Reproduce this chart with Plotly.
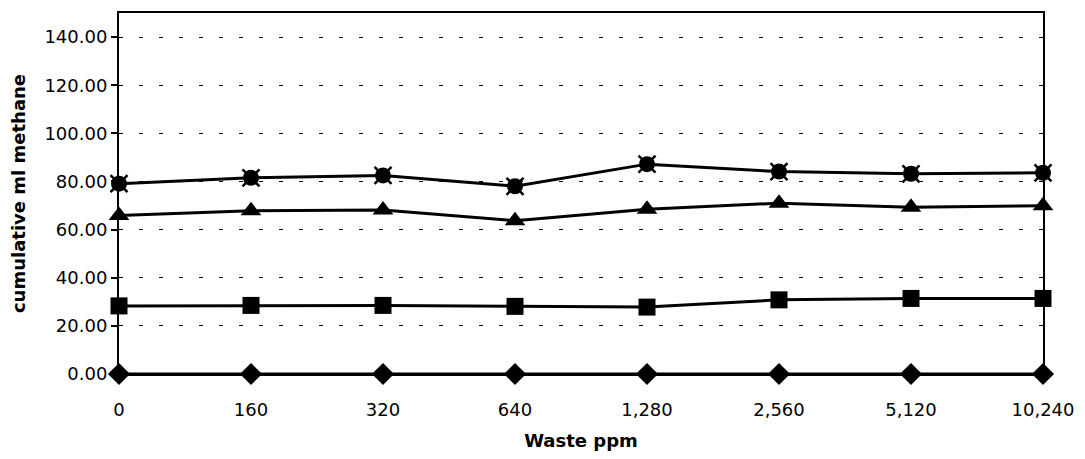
import plotly.graph_objects as go

# Waste concentrations (ppm) along the x axis
waste_ppm = ["0", "160", "320", "640", "1,280", "2,560", "5,120", "10,240"]

# Cumulative methane (ml) for each series
methane_top = [79.1, 81.5, 82.5, 78.0, 87.2, 84.1, 83.2, 83.6]
methane_triangle = [65.9, 67.8, 68.1, 63.7, 68.5, 71.0, 69.3, 69.9]
methane_square = [28.3, 28.5, 28.5, 28.1, 27.8, 30.8, 31.4, 31.4]
methane_diamond = [0, 0, 0, 0, 0, 0, 0, 0]

y_ticks = [0, 20, 40, 60, 80, 100, 120, 140]
y_tick_labels = [f"{v:.2f}" for v in y_ticks]

FONT = "DejaVu Sans"
line_style = dict(color="black", width=3)

fig = go.Figure()

fig.add_trace(go.Scatter(
    x=waste_ppm, y=methane_diamond, mode="lines+markers", name="Diamond",
    line=line_style, marker=dict(symbol="diamond", size=17, color="black"),
    cliponaxis=False,
))
fig.add_trace(go.Scatter(
    x=waste_ppm, y=methane_square, mode="lines+markers", name="Square",
    line=line_style, marker=dict(symbol="square", size=17, color="black"),
    cliponaxis=False,
))
fig.add_trace(go.Scatter(
    x=waste_ppm, y=methane_triangle, mode="lines+markers", name="Triangle",
    line=line_style, marker=dict(symbol="triangle-up", size=18, color="black"),
    cliponaxis=False,
))
fig.add_trace(go.Scatter(
    x=waste_ppm, y=methane_top, mode="lines+markers", name="Star",
    line=line_style, marker=dict(symbol="circle", size=16, color="black"),
    cliponaxis=False,
))
# diagonal spikes over the round markers
fig.add_trace(go.Scatter(
    x=waste_ppm, y=methane_top, mode="markers", name="Star spikes",
    marker=dict(symbol="x-thin", size=17, line=dict(color="black", width=2.5)),
    cliponaxis=False, showlegend=False, hoverinfo="skip",
))

fig.update_layout(
    width=1085, height=459,
    margin=dict(l=119, r=36, t=11, b=82),
    paper_bgcolor="white", plot_bgcolor="white",
    showlegend=False,
    font=dict(family=FONT, size=18, color="black"),
)

fig.update_xaxes(
    type="category", range=[0, 7],
    showline=True, linecolor="black", linewidth=2, mirror=True,
    showgrid=False, zeroline=False,
    ticks="", ticklabelstandoff=18,
    tickfont=dict(family=FONT, size=18),
    title=dict(text="<b>Waste ppm</b>", font=dict(family=FONT, size=18), standoff=16),
)

fig.update_yaxes(
    range=[0, 150],
    tickvals=y_ticks, ticktext=y_tick_labels,
    showline=True, linecolor="black", linewidth=2, mirror=True,
    showgrid=True, gridcolor="black", gridwidth=1, griddash="4px,16px",
    zeroline=False,
    ticks="outside", ticklen=6, tickcolor="black", tickwidth=1.5,
    tickfont=dict(family=FONT, size=18),
    title=dict(text="<b>cumulative ml methane</b>", font=dict(family=FONT, size=18), standoff=14),
)

fig.write_html("out.html")
